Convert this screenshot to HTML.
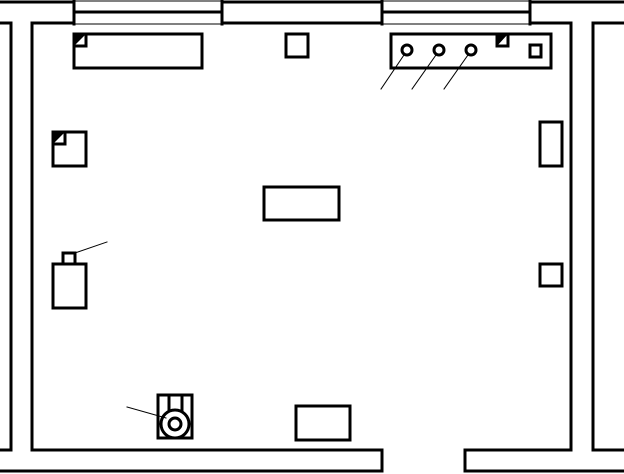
<!DOCTYPE html>
<html><head><meta charset="utf-8"><style>html,body{margin:0;padding:0;background:#fff;width:624px;height:474px;overflow:hidden}</style></head>
<body>
<svg width="624" height="474" viewBox="0 0 624 474" xmlns="http://www.w3.org/2000/svg" fill="none" stroke="#000" stroke-linecap="square">
<g stroke-width="3">
<line x1="0" y1="2" x2="74" y2="2"/>
<line x1="222" y1="2" x2="382" y2="2"/>
<line x1="530" y1="2" x2="624" y2="2"/>
<line x1="0" y1="23" x2="11" y2="23"/>
<line x1="32" y1="23" x2="74" y2="23"/>
<line x1="222" y1="23" x2="382" y2="23"/>
<line x1="530" y1="23" x2="571" y2="23"/>
<line x1="593" y1="23" x2="624" y2="23"/>
<line x1="74" y1="0" x2="74" y2="24"/>
<line x1="222" y1="0" x2="222" y2="24"/>
<line x1="74" y1="12" x2="222" y2="12"/>
<line x1="382" y1="0" x2="382" y2="24"/>
<line x1="530" y1="0" x2="530" y2="24"/>
<line x1="382" y1="12" x2="530" y2="12"/>
<line x1="11" y1="23" x2="11" y2="450"/>
<line x1="0" y1="450" x2="11" y2="450"/>
<line x1="32" y1="23" x2="32" y2="450"/>
<line x1="32" y1="450" x2="382" y2="450"/>
<line x1="382" y1="450" x2="382" y2="471"/>
<line x1="0" y1="471" x2="382" y2="471"/>
<line x1="465" y1="450" x2="571" y2="450"/>
<line x1="465" y1="450" x2="465" y2="471"/>
<line x1="465" y1="471" x2="624" y2="471"/>
<line x1="571" y1="23" x2="571" y2="450"/>
<line x1="593" y1="23" x2="593" y2="450"/>
<line x1="593" y1="450" x2="624" y2="450"/>
<rect x="74" y="34" width="128" height="34"/>
<rect x="74" y="34" width="12" height="12"/>
<rect x="286" y="34" width="22" height="23"/>
<rect x="391" y="34" width="160" height="34"/>
<rect x="497" y="34" width="11" height="12"/>
<rect x="530" y="45" width="11" height="12"/>
<rect x="53" y="132" width="33" height="34"/>
<rect x="53" y="132" width="12" height="12"/>
<rect x="264" y="187" width="75" height="33"/>
<rect x="53" y="264" width="33" height="44"/>
<rect x="63" y="253" width="12" height="11"/>
<rect x="540" y="122" width="22" height="44"/>
<rect x="540" y="264" width="22" height="22"/>
<rect x="158" y="395" width="34" height="43"/>
<line x1="169" y1="395" x2="169" y2="410"/>
<line x1="182" y1="395" x2="182" y2="410"/>
<circle cx="175" cy="424" r="14"/>
<circle cx="175" cy="424" r="6"/>
<rect x="296" y="406" width="54" height="34"/>
<circle cx="407" cy="50" r="5"/>
<circle cx="439" cy="50" r="5"/>
<circle cx="471" cy="50" r="5"/>
</g>
<g stroke-width="1">
<line x1="74" y1="1" x2="222" y2="1"/>
<line x1="74" y1="24" x2="222" y2="24"/>
<line x1="382" y1="1" x2="530" y2="1"/>
<line x1="382" y1="24" x2="530" y2="24"/>
</g>
<g fill="#000" stroke="none">
<polygon points="74,34 86,34 74,46"/>
<polygon points="497,34 508,34 497,46"/>
<polygon points="53,132 65,132 53,144"/>
</g>
<g stroke-width="1">
<line x1="404" y1="55" x2="381" y2="89"/>
<line x1="436" y1="55" x2="412" y2="89"/>
<line x1="468" y1="55" x2="444" y2="89"/>
<line x1="75" y1="253" x2="107" y2="242"/>
<line x1="127" y1="407" x2="166" y2="418"/>
</g>
</svg>
</body></html>
